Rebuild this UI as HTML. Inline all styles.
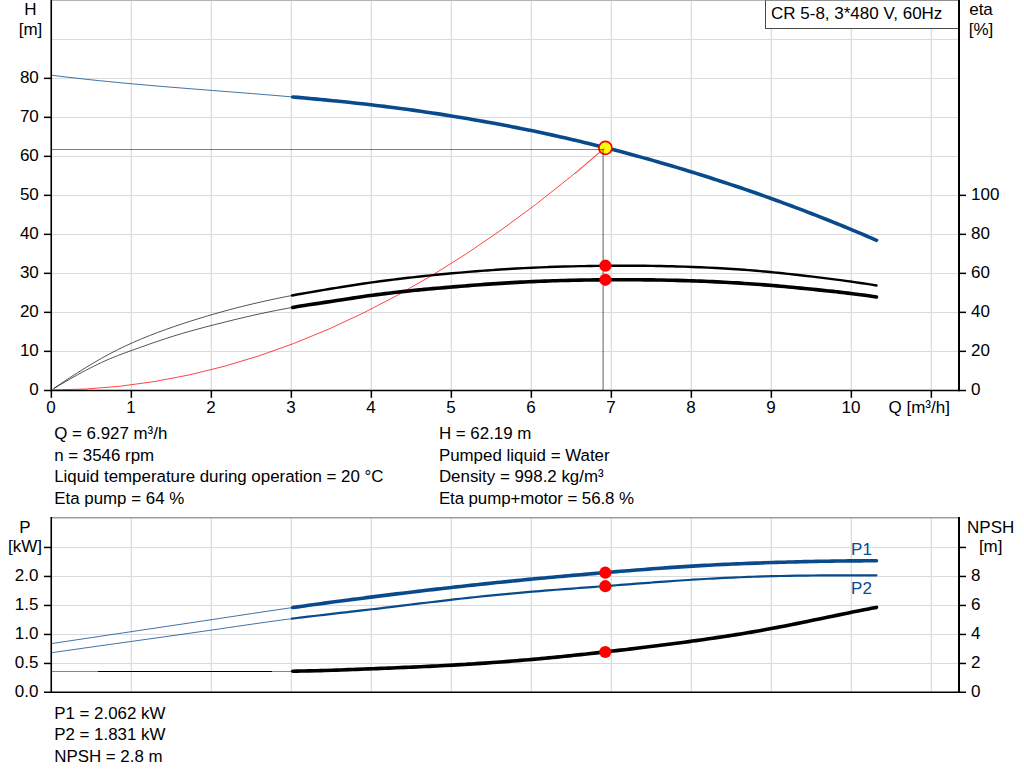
<!DOCTYPE html>
<html><head><meta charset="utf-8"><title>CR 5-8 pump curve</title>
<style>
html,body{margin:0;padding:0;background:#fff;}
body{width:1024px;height:781px;overflow:hidden;font-family:"Liberation Sans",sans-serif;}
svg{display:block;}
</style></head><body>
<svg width="1024" height="781" viewBox="0 0 1024 781">
<rect width="1024" height="781" fill="#fff"/>
<g stroke="#d8dcde" stroke-width="1.25">
<line x1="131.300" y1="1" x2="131.300" y2="390"/>
<line x1="131.300" y1="518" x2="131.300" y2="692"/>
<line x1="211.300" y1="1" x2="211.300" y2="390"/>
<line x1="211.300" y1="518" x2="211.300" y2="692"/>
<line x1="291.300" y1="1" x2="291.300" y2="390"/>
<line x1="291.300" y1="518" x2="291.300" y2="692"/>
<line x1="371.300" y1="1" x2="371.300" y2="390"/>
<line x1="371.300" y1="518" x2="371.300" y2="692"/>
<line x1="451.300" y1="1" x2="451.300" y2="390"/>
<line x1="451.300" y1="518" x2="451.300" y2="692"/>
<line x1="531.300" y1="1" x2="531.300" y2="390"/>
<line x1="531.300" y1="518" x2="531.300" y2="692"/>
<line x1="611.300" y1="1" x2="611.300" y2="390"/>
<line x1="611.300" y1="518" x2="611.300" y2="692"/>
<line x1="691.300" y1="1" x2="691.300" y2="390"/>
<line x1="691.300" y1="518" x2="691.300" y2="692"/>
<line x1="771.300" y1="1" x2="771.300" y2="390"/>
<line x1="771.300" y1="518" x2="771.300" y2="692"/>
<line x1="851.300" y1="1" x2="851.300" y2="390"/>
<line x1="851.300" y1="518" x2="851.300" y2="692"/>
<line x1="931.300" y1="1" x2="931.300" y2="390"/>
<line x1="931.300" y1="518" x2="931.300" y2="692"/>
<line x1="52" y1="351.47" x2="958" y2="351.47" stroke-width="1.12"/>
<line x1="52" y1="312.47" x2="958" y2="312.47" stroke-width="1.12"/>
<line x1="52" y1="273.47" x2="958" y2="273.47" stroke-width="1.12"/>
<line x1="52" y1="234.47" x2="958" y2="234.47" stroke-width="1.12"/>
<line x1="52" y1="195.47" x2="958" y2="195.47" stroke-width="1.12"/>
<line x1="52" y1="156.47" x2="958" y2="156.47" stroke-width="1.12"/>
<line x1="52" y1="117.47" x2="958" y2="117.47" stroke-width="1.12"/>
<line x1="52" y1="78.47" x2="958" y2="78.47" stroke-width="1.12"/>
<line x1="52" y1="39.47" x2="958" y2="39.47" stroke-width="1.12"/>
<line x1="52" y1="663.47" x2="958" y2="663.47" stroke-width="1.12"/>
<line x1="52" y1="634.47" x2="958" y2="634.47" stroke-width="1.12"/>
<line x1="52" y1="605.47" x2="958" y2="605.47" stroke-width="1.12"/>
<line x1="52" y1="576.47" x2="958" y2="576.47" stroke-width="1.12"/>
<line x1="52" y1="547.47" x2="958" y2="547.47" stroke-width="1.12"/>
</g>
<g stroke="#9a9c9d" stroke-width="1.5">
<line x1="51" y1="0.1" x2="960" y2="0.1"/>
<line x1="51" y1="517.85" x2="960" y2="517.85"/>
</g>
<path d="M51,390 Q328.1,390 605.2,147.5" fill="none" stroke="#ff0000" stroke-opacity="0.82" stroke-width="0.9"/>
<path d="M51.00,75.16 C52.34,75.33 56.38,75.84 59.07,76.17 C61.76,76.49 64.44,76.81 67.13,77.13 C69.82,77.45 72.51,77.76 75.20,78.06 C77.89,78.37 80.58,78.67 83.27,78.96 C85.96,79.26 88.64,79.54 91.33,79.83 C94.02,80.11 96.71,80.39 99.40,80.67 C102.09,80.95 104.78,81.22 107.47,81.48 C110.16,81.75 112.84,82.01 115.53,82.27 C118.22,82.53 120.91,82.79 123.60,83.04 C126.29,83.29 128.98,83.54 131.67,83.79 C134.36,84.03 137.04,84.27 139.73,84.51 C142.42,84.75 145.11,84.99 147.80,85.22 C150.49,85.45 153.18,85.68 155.87,85.91 C158.56,86.14 161.24,86.37 163.93,86.59 C166.62,86.81 169.31,87.04 172.00,87.26 C174.69,87.48 177.38,87.70 180.07,87.91 C182.76,88.13 185.44,88.34 188.13,88.56 C190.82,88.77 193.51,88.99 196.20,89.20 C198.89,89.41 201.58,89.62 204.27,89.83 C206.96,90.04 209.64,90.25 212.33,90.46 C215.02,90.67 217.71,90.88 220.40,91.09 C223.09,91.30 225.78,91.51 228.47,91.72 C231.16,91.93 233.84,92.14 236.53,92.36 C239.22,92.57 241.91,92.78 244.60,92.99 C247.29,93.20 249.98,93.42 252.67,93.63 C255.36,93.85 258.04,94.06 260.73,94.28 C263.42,94.50 266.11,94.72 268.80,94.94 C271.49,95.16 274.18,95.38 276.87,95.60 C279.56,95.83 282.24,96.06 284.93,96.29 C287.62,96.51 291.66,96.86 293.00,96.98" fill="none" stroke="#084a8b" stroke-width="0.78"/>
<path d="M292.70,96.95 C294.03,97.07 298.03,97.42 300.70,97.66 C303.36,97.90 306.03,98.14 308.69,98.38 C311.36,98.62 314.03,98.87 316.69,99.12 C319.36,99.37 322.02,99.63 324.69,99.88 C327.35,100.14 330.02,100.40 332.69,100.67 C335.35,100.94 338.02,101.21 340.68,101.48 C343.35,101.75 346.02,102.03 348.68,102.32 C351.35,102.60 354.01,102.89 356.68,103.18 C359.34,103.47 362.01,103.77 364.68,104.07 C367.34,104.38 370.01,104.69 372.67,105.00 C375.34,105.31 378.00,105.63 380.67,105.96 C383.34,106.28 386.00,106.61 388.67,106.95 C391.33,107.29 394.00,107.63 396.66,107.98 C399.33,108.32 402.00,108.68 404.66,109.04 C407.33,109.40 409.99,109.76 412.66,110.13 C415.32,110.51 417.99,110.88 420.66,111.27 C423.32,111.65 425.99,112.04 428.65,112.44 C431.32,112.83 433.98,113.24 436.65,113.65 C439.32,114.05 441.98,114.47 444.65,114.89 C447.31,115.31 449.98,115.74 452.65,116.17 C455.31,116.60 457.98,117.04 460.64,117.49 C463.31,117.93 465.97,118.38 468.64,118.84 C471.31,119.29 473.97,119.75 476.64,120.22 C479.30,120.69 481.97,121.16 484.63,121.64 C487.30,122.11 489.97,122.60 492.63,123.08 C495.30,123.57 497.96,124.07 500.63,124.56 C503.29,125.06 505.96,125.57 508.63,126.08 C511.29,126.59 513.96,127.11 516.62,127.63 C519.29,128.16 521.95,128.69 524.62,129.22 C527.29,129.76 529.95,130.30 532.62,130.85 C535.28,131.40 537.95,131.96 540.62,132.52 C543.28,133.09 545.95,133.66 548.61,134.24 C551.28,134.81 553.94,135.40 556.61,135.99 C559.28,136.59 561.94,137.19 564.61,137.79 C567.27,138.40 569.94,139.01 572.60,139.64 C575.27,140.26 577.94,140.89 580.60,141.52 C583.27,142.16 585.93,142.80 588.60,143.45 C591.26,144.10 593.93,144.76 596.60,145.42 C599.26,146.08 601.93,146.75 604.59,147.43 C607.26,148.11 609.92,148.79 612.59,149.49 C615.26,150.18 617.92,150.87 620.59,151.58 C623.25,152.29 625.92,153.00 628.58,153.72 C631.25,154.43 633.92,155.16 636.58,155.89 C639.25,156.63 641.91,157.36 644.58,158.11 C647.25,158.86 649.91,159.61 652.58,160.37 C655.24,161.13 657.91,161.89 660.57,162.67 C663.24,163.44 665.91,164.22 668.57,165.00 C671.24,165.79 673.90,166.58 676.57,167.38 C679.23,168.18 681.90,168.98 684.57,169.80 C687.23,170.61 689.90,171.43 692.56,172.25 C695.23,173.07 697.89,173.91 700.56,174.74 C703.23,175.58 705.89,176.43 708.56,177.28 C711.22,178.13 713.89,178.98 716.55,179.85 C719.22,180.71 721.89,181.58 724.55,182.46 C727.22,183.34 729.88,184.22 732.55,185.11 C735.22,186.00 737.88,186.90 740.55,187.81 C743.21,188.71 745.88,189.62 748.54,190.54 C751.21,191.46 753.88,192.39 756.54,193.32 C759.21,194.25 761.87,195.19 764.54,196.14 C767.20,197.09 769.87,198.04 772.54,199.00 C775.20,199.96 777.87,200.93 780.53,201.91 C783.20,202.88 785.86,203.86 788.53,204.85 C791.20,205.84 793.86,206.84 796.53,207.85 C799.19,208.85 801.86,209.86 804.52,210.88 C807.19,211.90 809.86,212.93 812.52,213.97 C815.19,215.00 817.85,216.04 820.52,217.09 C823.18,218.14 825.85,219.20 828.52,220.27 C831.18,221.33 833.85,222.41 836.51,223.49 C839.18,224.57 841.85,225.66 844.51,226.75 C847.18,227.85 849.84,228.95 852.51,230.07 C855.17,231.18 857.84,232.30 860.51,233.43 C863.17,234.55 865.84,235.69 868.50,236.84 C871.17,237.98 875.17,239.72 876.50,240.29" fill="none" stroke="#084a8b" stroke-width="3.60" stroke-linecap="round"/>
<path d="M53.60,388.60 C54.93,387.69 58.92,384.94 61.58,383.15 C64.24,381.36 66.90,379.60 69.56,377.86 C72.22,376.12 74.88,374.41 77.54,372.73 C80.20,371.04 82.86,369.38 85.52,367.75 C88.18,366.12 90.84,364.52 93.50,362.94 C96.16,361.37 98.82,359.82 101.48,358.32 C104.14,356.82 106.80,355.36 109.46,353.94 C112.12,352.52 114.78,351.15 117.44,349.82 C120.10,348.50 122.76,347.21 125.42,345.96 C128.08,344.71 130.74,343.51 133.40,342.33 C136.06,341.15 138.72,340.02 141.38,338.91 C144.04,337.80 146.70,336.72 149.36,335.67 C152.02,334.62 154.68,333.60 157.34,332.60 C160.00,331.60 162.66,330.63 165.32,329.67 C167.98,328.72 170.64,327.79 173.30,326.87 C175.96,325.95 178.62,325.06 181.28,324.17 C183.94,323.29 186.60,322.42 189.26,321.57 C191.92,320.71 194.58,319.87 197.24,319.04 C199.90,318.22 202.56,317.41 205.22,316.61 C207.88,315.81 210.54,315.03 213.20,314.26 C215.86,313.49 218.52,312.74 221.18,312.00 C223.84,311.26 226.50,310.53 229.16,309.82 C231.82,309.11 234.48,308.41 237.14,307.73 C239.80,307.05 242.46,306.38 245.12,305.72 C247.78,305.06 250.44,304.42 253.10,303.79 C255.76,303.16 258.42,302.55 261.08,301.94 C263.74,301.34 266.40,300.75 269.06,300.17 C271.72,299.59 274.38,299.03 277.04,298.48 C279.70,297.93 282.36,297.39 285.02,296.86 C287.68,296.34 291.67,295.58 293.00,295.32" fill="none" stroke="#111" stroke-width="0.72"/>
<path d="M292.10,295.49 C293.43,295.24 297.44,294.49 300.11,294.01 C302.77,293.52 305.44,293.05 308.11,292.58 C310.78,292.12 313.45,291.66 316.12,291.21 C318.78,290.75 321.45,290.31 324.12,289.86 C326.79,289.42 329.46,288.98 332.13,288.54 C334.80,288.10 337.46,287.67 340.13,287.24 C342.80,286.81 345.47,286.39 348.14,285.97 C350.81,285.55 353.48,285.14 356.14,284.74 C358.81,284.33 361.48,283.93 364.15,283.54 C366.82,283.15 369.49,282.76 372.15,282.39 C374.82,282.01 377.49,281.64 380.16,281.28 C382.83,280.92 385.50,280.57 388.17,280.23 C390.83,279.89 393.50,279.55 396.17,279.22 C398.84,278.89 401.51,278.57 404.18,278.26 C406.85,277.94 409.51,277.64 412.18,277.33 C414.85,277.03 417.52,276.74 420.19,276.45 C422.86,276.17 425.52,275.88 428.19,275.61 C430.86,275.33 433.53,275.07 436.20,274.80 C438.87,274.54 441.54,274.28 444.20,274.03 C446.87,273.78 449.54,273.53 452.21,273.29 C454.88,273.05 457.55,272.81 460.22,272.58 C462.88,272.35 465.55,272.13 468.22,271.91 C470.89,271.69 473.56,271.47 476.23,271.26 C478.89,271.05 481.56,270.85 484.23,270.65 C486.90,270.46 489.57,270.26 492.24,270.08 C494.91,269.89 497.57,269.71 500.24,269.54 C502.91,269.36 505.58,269.19 508.25,269.03 C510.92,268.87 513.58,268.71 516.25,268.56 C518.92,268.41 521.59,268.27 524.26,268.13 C526.93,268.00 529.60,267.87 532.26,267.74 C534.93,267.62 537.60,267.50 540.27,267.39 C542.94,267.27 545.61,267.17 548.28,267.07 C550.94,266.97 553.61,266.88 556.28,266.79 C558.95,266.70 561.62,266.62 564.29,266.54 C566.95,266.47 569.62,266.40 572.29,266.33 C574.96,266.27 577.63,266.21 580.30,266.16 C582.97,266.10 585.63,266.05 588.30,266.01 C590.97,265.97 593.64,265.93 596.31,265.89 C598.98,265.86 601.65,265.83 604.31,265.81 C606.98,265.78 609.65,265.76 612.32,265.75 C614.99,265.74 617.66,265.73 620.32,265.72 C622.99,265.72 625.66,265.72 628.33,265.72 C631.00,265.73 633.67,265.74 636.34,265.76 C639.00,265.77 641.67,265.79 644.34,265.82 C647.01,265.85 649.68,265.88 652.35,265.92 C655.02,265.96 657.68,266.00 660.35,266.05 C663.02,266.10 665.69,266.16 668.36,266.22 C671.03,266.28 673.69,266.35 676.36,266.43 C679.03,266.50 681.70,266.58 684.37,266.67 C687.04,266.76 689.71,266.85 692.37,266.95 C695.04,267.05 697.71,267.16 700.38,267.27 C703.05,267.39 705.72,267.51 708.38,267.63 C711.05,267.76 713.72,267.90 716.39,268.04 C719.06,268.18 721.73,268.33 724.40,268.49 C727.06,268.65 729.73,268.82 732.40,268.99 C735.07,269.16 737.74,269.34 740.41,269.54 C743.08,269.73 745.74,269.92 748.41,270.13 C751.08,270.34 753.75,270.55 756.42,270.78 C759.09,271.01 761.75,271.24 764.42,271.48 C767.09,271.73 769.76,271.98 772.43,272.24 C775.10,272.50 777.77,272.77 780.43,273.05 C783.10,273.33 785.77,273.62 788.44,273.91 C791.11,274.20 793.78,274.50 796.45,274.80 C799.11,275.10 801.78,275.40 804.45,275.71 C807.12,276.02 809.79,276.33 812.46,276.65 C815.12,276.96 817.79,277.28 820.46,277.61 C823.13,277.94 825.80,278.27 828.47,278.60 C831.14,278.94 833.80,279.28 836.47,279.63 C839.14,279.98 841.81,280.34 844.48,280.70 C847.15,281.06 849.82,281.43 852.48,281.81 C855.15,282.19 857.82,282.57 860.49,282.97 C863.16,283.36 865.83,283.77 868.49,284.18 C871.16,284.59 875.17,285.24 876.50,285.45" fill="none" stroke="#000" stroke-width="2.40" stroke-linecap="round"/>
<path d="M53.60,388.70 C54.93,387.90 58.92,385.49 61.58,383.92 C64.24,382.35 66.90,380.79 69.56,379.27 C72.22,377.74 74.88,376.24 77.54,374.77 C80.20,373.30 82.86,371.86 85.52,370.45 C88.18,369.05 90.84,367.67 93.50,366.34 C96.16,365.01 98.82,363.72 101.48,362.48 C104.14,361.25 106.80,360.06 109.46,358.93 C112.12,357.81 114.78,356.75 117.44,355.72 C120.10,354.68 122.76,353.70 125.42,352.72 C128.08,351.74 130.74,350.79 133.40,349.83 C136.06,348.88 138.72,347.92 141.38,346.97 C144.04,346.03 146.70,345.08 149.36,344.15 C152.02,343.23 154.68,342.30 157.34,341.40 C160.00,340.49 162.66,339.60 165.32,338.73 C167.98,337.85 170.64,336.99 173.30,336.16 C175.96,335.32 178.62,334.51 181.28,333.72 C183.94,332.93 186.60,332.16 189.26,331.41 C191.92,330.66 194.58,329.93 197.24,329.22 C199.90,328.50 202.56,327.80 205.22,327.10 C207.88,326.40 210.54,325.72 213.20,325.03 C215.86,324.35 218.52,323.67 221.18,323.00 C223.84,322.33 226.50,321.67 229.16,321.01 C231.82,320.35 234.48,319.70 237.14,319.06 C239.80,318.42 242.46,317.79 245.12,317.17 C247.78,316.55 250.44,315.94 253.10,315.34 C255.76,314.74 258.42,314.15 261.08,313.57 C263.74,313.00 266.40,312.43 269.06,311.89 C271.72,311.34 274.38,310.80 277.04,310.28 C279.70,309.76 282.36,309.26 285.02,308.77 C287.68,308.28 291.67,307.59 293.00,307.36" fill="none" stroke="#111" stroke-width="0.72"/>
<path d="M292.70,307.41 C294.03,307.19 298.03,306.51 300.70,306.08 C303.36,305.65 306.03,305.24 308.69,304.82 C311.36,304.41 314.03,304.01 316.69,303.61 C319.36,303.20 322.02,302.80 324.69,302.40 C327.35,301.99 330.02,301.59 332.69,301.18 C335.35,300.77 338.02,300.35 340.68,299.94 C343.35,299.53 346.02,299.12 348.68,298.71 C351.35,298.31 354.01,297.90 356.68,297.50 C359.34,297.11 362.01,296.72 364.68,296.34 C367.34,295.96 370.01,295.58 372.67,295.22 C375.34,294.86 378.00,294.51 380.67,294.17 C383.34,293.83 386.00,293.51 388.67,293.19 C391.33,292.87 394.00,292.56 396.66,292.26 C399.33,291.96 402.00,291.66 404.66,291.38 C407.33,291.09 409.99,290.82 412.66,290.55 C415.32,290.28 417.99,290.01 420.66,289.76 C423.32,289.50 425.99,289.25 428.65,289.00 C431.32,288.76 433.98,288.52 436.65,288.28 C439.32,288.05 441.98,287.82 444.65,287.59 C447.31,287.36 449.98,287.13 452.65,286.91 C455.31,286.69 457.98,286.47 460.64,286.26 C463.31,286.04 465.97,285.83 468.64,285.62 C471.31,285.41 473.97,285.21 476.64,285.01 C479.30,284.81 481.97,284.61 484.63,284.42 C487.30,284.23 489.97,284.04 492.63,283.86 C495.30,283.68 497.96,283.51 500.63,283.34 C503.29,283.16 505.96,283.00 508.63,282.84 C511.29,282.68 513.96,282.53 516.62,282.38 C519.29,282.23 521.95,282.09 524.62,281.96 C527.29,281.82 529.95,281.70 532.62,281.58 C535.28,281.46 537.95,281.34 540.62,281.24 C543.28,281.13 545.95,281.03 548.61,280.94 C551.28,280.84 553.94,280.76 556.61,280.68 C559.28,280.60 561.94,280.52 564.61,280.45 C567.27,280.38 569.94,280.32 572.60,280.26 C575.27,280.20 577.94,280.15 580.60,280.10 C583.27,280.06 585.93,280.01 588.60,279.98 C591.26,279.94 593.93,279.91 596.60,279.88 C599.26,279.85 601.93,279.82 604.59,279.80 C607.26,279.78 609.92,279.77 612.59,279.76 C615.26,279.75 617.92,279.74 620.59,279.73 C623.25,279.73 625.92,279.73 628.58,279.74 C631.25,279.74 633.92,279.75 636.58,279.77 C639.25,279.79 641.91,279.81 644.58,279.83 C647.25,279.86 649.91,279.89 652.58,279.92 C655.24,279.96 657.91,280.00 660.57,280.04 C663.24,280.09 665.91,280.14 668.57,280.19 C671.24,280.25 673.90,280.31 676.57,280.38 C679.23,280.45 681.90,280.52 684.57,280.60 C687.23,280.68 689.90,280.76 692.56,280.85 C695.23,280.94 697.89,281.04 700.56,281.14 C703.23,281.25 705.89,281.35 708.56,281.47 C711.22,281.59 713.89,281.71 716.55,281.84 C719.22,281.96 721.89,282.10 724.55,282.24 C727.22,282.38 729.88,282.53 732.55,282.68 C735.22,282.84 737.88,283.00 740.55,283.17 C743.21,283.34 745.88,283.51 748.54,283.69 C751.21,283.88 753.88,284.07 756.54,284.26 C759.21,284.46 761.87,284.66 764.54,284.87 C767.20,285.08 769.87,285.30 772.54,285.53 C775.20,285.75 777.87,285.99 780.53,286.23 C783.20,286.47 785.86,286.71 788.53,286.96 C791.20,287.21 793.86,287.46 796.53,287.72 C799.19,287.97 801.86,288.23 804.52,288.49 C807.19,288.75 809.86,289.01 812.52,289.28 C815.19,289.54 817.85,289.81 820.52,290.09 C823.18,290.36 825.85,290.64 828.52,290.93 C831.18,291.21 833.85,291.50 836.51,291.80 C839.18,292.10 841.85,292.41 844.51,292.72 C847.18,293.03 849.84,293.35 852.51,293.69 C855.17,294.02 857.84,294.36 860.51,294.71 C863.17,295.06 865.84,295.42 868.50,295.79 C871.17,296.17 875.17,296.76 876.50,296.95" fill="none" stroke="#000" stroke-width="3.60" stroke-linecap="round"/>
<path d="M51.00,643.70 C52.34,643.50 56.38,642.88 59.07,642.47 C61.76,642.07 64.44,641.66 67.13,641.25 C69.82,640.85 72.51,640.44 75.20,640.03 C77.89,639.63 80.58,639.23 83.27,638.82 C85.96,638.42 88.64,638.01 91.33,637.61 C94.02,637.21 96.71,636.81 99.40,636.41 C102.09,636.00 104.78,635.60 107.47,635.20 C110.16,634.80 112.84,634.40 115.53,634.00 C118.22,633.60 120.91,633.20 123.60,632.80 C126.29,632.40 128.98,632.00 131.67,631.60 C134.36,631.20 137.04,630.80 139.73,630.40 C142.42,630.00 145.11,629.60 147.80,629.20 C150.49,628.80 153.18,628.40 155.87,628.00 C158.56,627.60 161.24,627.20 163.93,626.80 C166.62,626.40 169.31,626.00 172.00,625.60 C174.69,625.20 177.38,624.80 180.07,624.40 C182.76,624.00 185.44,623.59 188.13,623.19 C190.82,622.79 193.51,622.38 196.20,621.98 C198.89,621.58 201.58,621.17 204.27,620.77 C206.96,620.36 209.64,619.96 212.33,619.55 C215.02,619.14 217.71,618.73 220.40,618.33 C223.09,617.92 225.78,617.51 228.47,617.10 C231.16,616.69 233.84,616.29 236.53,615.88 C239.22,615.47 241.91,615.06 244.60,614.66 C247.29,614.25 249.98,613.85 252.67,613.44 C255.36,613.04 258.04,612.63 260.73,612.23 C263.42,611.83 266.11,611.43 268.80,611.03 C271.49,610.64 274.18,610.24 276.87,609.85 C279.56,609.45 282.24,609.06 284.93,608.67 C287.62,608.28 291.66,607.71 293.00,607.51" fill="none" stroke="#084a8b" stroke-width="0.78"/>
<path d="M292.70,607.56 C294.03,607.37 298.03,606.80 300.70,606.43 C303.36,606.05 306.03,605.68 308.69,605.31 C311.36,604.94 314.03,604.58 316.69,604.21 C319.36,603.85 322.02,603.49 324.69,603.13 C327.35,602.77 330.02,602.42 332.69,602.06 C335.35,601.71 338.02,601.35 340.68,601.00 C343.35,600.65 346.02,600.31 348.68,599.96 C351.35,599.61 354.01,599.27 356.68,598.93 C359.34,598.58 362.01,598.24 364.68,597.90 C367.34,597.56 370.01,597.23 372.67,596.89 C375.34,596.55 378.00,596.22 380.67,595.88 C383.34,595.55 386.00,595.22 388.67,594.89 C391.33,594.56 394.00,594.23 396.66,593.90 C399.33,593.57 402.00,593.25 404.66,592.92 C407.33,592.60 409.99,592.28 412.66,591.96 C415.32,591.64 417.99,591.32 420.66,591.01 C423.32,590.69 425.99,590.38 428.65,590.06 C431.32,589.75 433.98,589.44 436.65,589.13 C439.32,588.83 441.98,588.52 444.65,588.22 C447.31,587.91 449.98,587.61 452.65,587.32 C455.31,587.02 457.98,586.72 460.64,586.43 C463.31,586.13 465.97,585.84 468.64,585.55 C471.31,585.26 473.97,584.98 476.64,584.69 C479.30,584.41 481.97,584.12 484.63,583.84 C487.30,583.56 489.97,583.29 492.63,583.01 C495.30,582.73 497.96,582.46 500.63,582.19 C503.29,581.92 505.96,581.65 508.63,581.38 C511.29,581.12 513.96,580.85 516.62,580.59 C519.29,580.33 521.95,580.07 524.62,579.81 C527.29,579.55 529.95,579.30 532.62,579.05 C535.28,578.79 537.95,578.54 540.62,578.29 C543.28,578.04 545.95,577.80 548.61,577.55 C551.28,577.31 553.94,577.06 556.61,576.82 C559.28,576.58 561.94,576.34 564.61,576.10 C567.27,575.87 569.94,575.63 572.60,575.40 C575.27,575.16 577.94,574.93 580.60,574.70 C583.27,574.47 585.93,574.24 588.60,574.01 C591.26,573.78 593.93,573.55 596.60,573.33 C599.26,573.10 601.93,572.87 604.59,572.65 C607.26,572.43 609.92,572.20 612.59,571.98 C615.26,571.76 617.92,571.54 620.59,571.32 C623.25,571.11 625.92,570.89 628.58,570.67 C631.25,570.46 633.92,570.25 636.58,570.04 C639.25,569.83 641.91,569.62 644.58,569.42 C647.25,569.21 649.91,569.01 652.58,568.81 C655.24,568.61 657.91,568.42 660.57,568.22 C663.24,568.03 665.91,567.84 668.57,567.66 C671.24,567.47 673.90,567.29 676.57,567.11 C679.23,566.94 681.90,566.77 684.57,566.60 C687.23,566.43 689.90,566.27 692.56,566.11 C695.23,565.95 697.89,565.79 700.56,565.64 C703.23,565.49 705.89,565.35 708.56,565.21 C711.22,565.07 713.89,564.93 716.55,564.80 C719.22,564.67 721.89,564.54 724.55,564.42 C727.22,564.29 729.88,564.17 732.55,564.05 C735.22,563.94 737.88,563.82 740.55,563.71 C743.21,563.60 745.88,563.50 748.54,563.40 C751.21,563.29 753.88,563.19 756.54,563.10 C759.21,563.00 761.87,562.91 764.54,562.82 C767.20,562.72 769.87,562.64 772.54,562.55 C775.20,562.46 777.87,562.38 780.53,562.30 C783.20,562.22 785.86,562.14 788.53,562.07 C791.20,561.99 793.86,561.92 796.53,561.85 C799.19,561.79 801.86,561.72 804.52,561.66 C807.19,561.59 809.86,561.53 812.52,561.48 C815.19,561.42 817.85,561.37 820.52,561.32 C823.18,561.27 825.85,561.22 828.52,561.18 C831.18,561.14 833.85,561.10 836.51,561.06 C839.18,561.02 841.85,560.99 844.51,560.96 C847.18,560.93 849.84,560.91 852.51,560.89 C855.17,560.87 857.84,560.85 860.51,560.83 C863.17,560.82 865.84,560.81 868.50,560.81 C871.17,560.80 875.17,560.80 876.50,560.80" fill="none" stroke="#084a8b" stroke-width="3.60" stroke-linecap="round"/>
<path d="M51.00,652.80 C52.34,652.61 56.38,652.02 59.07,651.64 C61.76,651.25 64.44,650.87 67.13,650.48 C69.82,650.10 72.51,649.72 75.20,649.34 C77.89,648.96 80.58,648.58 83.27,648.19 C85.96,647.81 88.64,647.44 91.33,647.06 C94.02,646.68 96.71,646.30 99.40,645.92 C102.09,645.55 104.78,645.17 107.47,644.79 C110.16,644.42 112.84,644.04 115.53,643.66 C118.22,643.29 120.91,642.91 123.60,642.53 C126.29,642.16 128.98,641.78 131.67,641.41 C134.36,641.03 137.04,640.65 139.73,640.28 C142.42,639.90 145.11,639.53 147.80,639.15 C150.49,638.77 153.18,638.39 155.87,638.02 C158.56,637.64 161.24,637.26 163.93,636.88 C166.62,636.50 169.31,636.12 172.00,635.74 C174.69,635.36 177.38,634.98 180.07,634.60 C182.76,634.22 185.44,633.83 188.13,633.45 C190.82,633.06 193.51,632.68 196.20,632.29 C198.89,631.90 201.58,631.52 204.27,631.13 C206.96,630.74 209.64,630.35 212.33,629.96 C215.02,629.56 217.71,629.17 220.40,628.78 C223.09,628.38 225.78,627.99 228.47,627.59 C231.16,627.20 233.84,626.80 236.53,626.41 C239.22,626.02 241.91,625.62 244.60,625.23 C247.29,624.84 249.98,624.45 252.67,624.07 C255.36,623.68 258.04,623.29 260.73,622.91 C263.42,622.53 266.11,622.15 268.80,621.78 C271.49,621.41 274.18,621.04 276.87,620.67 C279.56,620.31 282.24,619.95 284.93,619.59 C287.62,619.24 291.66,618.72 293.00,618.54" fill="none" stroke="#084a8b" stroke-width="0.78"/>
<path d="M292.00,618.67 C293.33,618.50 297.34,617.99 300.01,617.66 C302.68,617.33 305.34,617.00 308.01,616.68 C310.68,616.36 313.35,616.04 316.02,615.73 C318.69,615.41 321.36,615.10 324.03,614.79 C326.70,614.48 329.37,614.17 332.03,613.87 C334.70,613.56 337.37,613.26 340.04,612.95 C342.71,612.65 345.38,612.35 348.05,612.04 C350.72,611.74 353.39,611.43 356.05,611.13 C358.72,610.82 361.39,610.52 364.06,610.21 C366.73,609.90 369.40,609.59 372.07,609.27 C374.74,608.96 377.41,608.64 380.08,608.33 C382.74,608.01 385.41,607.68 388.08,607.36 C390.75,607.04 393.42,606.72 396.09,606.39 C398.76,606.07 401.43,605.74 404.10,605.41 C406.76,605.09 409.43,604.76 412.10,604.44 C414.77,604.11 417.44,603.79 420.11,603.46 C422.78,603.14 425.45,602.81 428.12,602.49 C430.79,602.17 433.45,601.85 436.12,601.54 C438.79,601.22 441.46,600.91 444.13,600.59 C446.80,600.28 449.47,599.97 452.14,599.67 C454.81,599.37 457.47,599.06 460.14,598.77 C462.81,598.47 465.48,598.18 468.15,597.89 C470.82,597.60 473.49,597.31 476.16,597.03 C478.83,596.75 481.50,596.47 484.16,596.20 C486.83,595.92 489.50,595.65 492.17,595.39 C494.84,595.12 497.51,594.86 500.18,594.60 C502.85,594.34 505.52,594.09 508.18,593.84 C510.85,593.59 513.52,593.34 516.19,593.10 C518.86,592.86 521.53,592.62 524.20,592.39 C526.87,592.15 529.54,591.92 532.21,591.70 C534.87,591.47 537.54,591.25 540.21,591.03 C542.88,590.82 545.55,590.60 548.22,590.39 C550.89,590.18 553.56,589.97 556.23,589.77 C558.89,589.56 561.56,589.36 564.23,589.15 C566.90,588.95 569.57,588.75 572.24,588.55 C574.91,588.35 577.58,588.16 580.25,587.96 C582.92,587.76 585.58,587.56 588.25,587.36 C590.92,587.17 593.59,586.97 596.26,586.77 C598.93,586.57 601.60,586.37 604.27,586.17 C606.94,585.97 609.61,585.77 612.27,585.56 C614.94,585.36 617.61,585.15 620.28,584.95 C622.95,584.74 625.62,584.54 628.29,584.33 C630.96,584.13 633.63,583.92 636.29,583.72 C638.96,583.51 641.63,583.31 644.30,583.10 C646.97,582.90 649.64,582.70 652.31,582.50 C654.98,582.30 657.65,582.10 660.32,581.91 C662.98,581.71 665.65,581.52 668.32,581.33 C670.99,581.14 673.66,580.95 676.33,580.77 C679.00,580.59 681.67,580.41 684.34,580.23 C687.00,580.05 689.67,579.88 692.34,579.72 C695.01,579.55 697.68,579.39 700.35,579.23 C703.02,579.07 705.69,578.92 708.36,578.77 C711.03,578.62 713.69,578.48 716.36,578.34 C719.03,578.20 721.70,578.07 724.37,577.94 C727.04,577.81 729.71,577.69 732.38,577.57 C735.05,577.45 737.71,577.34 740.38,577.23 C743.05,577.12 745.72,577.01 748.39,576.91 C751.06,576.82 753.73,576.72 756.40,576.63 C759.07,576.54 761.74,576.46 764.40,576.38 C767.07,576.30 769.74,576.23 772.41,576.16 C775.08,576.10 777.75,576.03 780.42,575.98 C783.09,575.92 785.76,575.86 788.42,575.82 C791.09,575.77 793.76,575.72 796.43,575.68 C799.10,575.64 801.77,575.61 804.44,575.57 C807.11,575.54 809.78,575.51 812.45,575.49 C815.11,575.46 817.78,575.44 820.45,575.42 C823.12,575.40 825.79,575.38 828.46,575.37 C831.13,575.35 833.80,575.34 836.47,575.33 C839.13,575.32 841.80,575.32 844.47,575.31 C847.14,575.30 849.81,575.30 852.48,575.30 C855.15,575.30 857.82,575.29 860.49,575.29 C863.16,575.29 865.82,575.29 868.49,575.30 C871.16,575.30 875.17,575.30 876.50,575.30" fill="none" stroke="#084a8b" stroke-width="2.20" stroke-linecap="round"/>
<path d="M51.00,671.30 C52.34,671.30 56.38,671.30 59.07,671.30 C61.76,671.31 64.44,671.31 67.13,671.31 C69.82,671.31 72.51,671.31 75.20,671.31 C77.89,671.31 80.58,671.31 83.27,671.31 C85.96,671.31 88.64,671.31 91.33,671.31 C94.02,671.31 96.71,671.31 99.40,671.31 C102.09,671.31 104.78,671.31 107.47,671.31 C110.16,671.31 112.84,671.31 115.53,671.30 C118.22,671.30 120.91,671.30 123.60,671.30 C126.29,671.30 128.98,671.30 131.67,671.30 C134.36,671.30 137.04,671.30 139.73,671.30 C142.42,671.30 145.11,671.30 147.80,671.30 C150.49,671.29 153.18,671.29 155.87,671.29 C158.56,671.29 161.24,671.29 163.93,671.29 C166.62,671.29 169.31,671.29 172.00,671.29 C174.69,671.29 177.38,671.29 180.07,671.29 C182.76,671.29 185.44,671.29 188.13,671.29 C190.82,671.29 193.51,671.29 196.20,671.29 C198.89,671.29 201.58,671.30 204.27,671.30 C206.96,671.30 209.64,671.30 212.33,671.30 C215.02,671.30 217.71,671.30 220.40,671.31 C223.09,671.31 225.78,671.31 228.47,671.31 C231.16,671.31 233.84,671.32 236.53,671.32 C239.22,671.32 241.91,671.32 244.60,671.32 C247.29,671.32 249.98,671.32 252.67,671.32 C255.36,671.32 258.04,671.32 260.73,671.31 C263.42,671.31 266.11,671.31 268.80,671.30 C271.49,671.30 274.18,671.30 276.87,671.29 C279.56,671.28 282.24,671.27 284.93,671.25 C287.62,671.23 291.66,671.19 293.00,671.18" fill="none" stroke="none" stroke-width="0.00"/>
<path d="M292.70,671.18 C294.03,671.16 298.03,671.11 300.70,671.07 C303.36,671.02 306.03,670.97 308.69,670.91 C311.36,670.85 314.03,670.79 316.69,670.72 C319.36,670.65 322.02,670.57 324.69,670.49 C327.35,670.41 330.02,670.33 332.69,670.24 C335.35,670.15 338.02,670.06 340.68,669.97 C343.35,669.87 346.02,669.77 348.68,669.67 C351.35,669.57 354.01,669.47 356.68,669.37 C359.34,669.26 362.01,669.16 364.68,669.05 C367.34,668.95 370.01,668.84 372.67,668.73 C375.34,668.63 378.00,668.52 380.67,668.41 C383.34,668.31 386.00,668.20 388.67,668.09 C391.33,667.98 394.00,667.87 396.66,667.76 C399.33,667.65 402.00,667.54 404.66,667.42 C407.33,667.31 409.99,667.20 412.66,667.08 C415.32,666.96 417.99,666.84 420.66,666.72 C423.32,666.60 425.99,666.47 428.65,666.34 C431.32,666.22 433.98,666.09 436.65,665.95 C439.32,665.82 441.98,665.68 444.65,665.54 C447.31,665.40 449.98,665.26 452.65,665.11 C455.31,664.96 457.98,664.81 460.64,664.65 C463.31,664.50 465.97,664.33 468.64,664.17 C471.31,664.00 473.97,663.84 476.64,663.66 C479.30,663.49 481.97,663.31 484.63,663.13 C487.30,662.95 489.97,662.76 492.63,662.57 C495.30,662.38 497.96,662.18 500.63,661.98 C503.29,661.78 505.96,661.58 508.63,661.37 C511.29,661.16 513.96,660.95 516.62,660.73 C519.29,660.51 521.95,660.28 524.62,660.06 C527.29,659.83 529.95,659.59 532.62,659.36 C535.28,659.12 537.95,658.87 540.62,658.63 C543.28,658.38 545.95,658.13 548.61,657.87 C551.28,657.61 553.94,657.35 556.61,657.09 C559.28,656.82 561.94,656.55 564.61,656.28 C567.27,656.01 569.94,655.73 572.60,655.45 C575.27,655.18 577.94,654.89 580.60,654.61 C583.27,654.32 585.93,654.03 588.60,653.74 C591.26,653.45 593.93,653.16 596.60,652.86 C599.26,652.57 601.93,652.27 604.59,651.97 C607.26,651.67 609.92,651.37 612.59,651.06 C615.26,650.76 617.92,650.45 620.59,650.14 C623.25,649.83 625.92,649.52 628.58,649.21 C631.25,648.90 633.92,648.58 636.58,648.26 C639.25,647.94 641.91,647.62 644.58,647.29 C647.25,646.97 649.91,646.64 652.58,646.31 C655.24,645.98 657.91,645.65 660.57,645.31 C663.24,644.97 665.91,644.63 668.57,644.29 C671.24,643.94 673.90,643.59 676.57,643.24 C679.23,642.89 681.90,642.54 684.57,642.18 C687.23,641.82 689.90,641.45 692.56,641.08 C695.23,640.72 697.89,640.35 700.56,639.97 C703.23,639.59 705.89,639.21 708.56,638.82 C711.22,638.44 713.89,638.04 716.55,637.65 C719.22,637.25 721.89,636.85 724.55,636.44 C727.22,636.03 729.88,635.61 732.55,635.19 C735.22,634.77 737.88,634.34 740.55,633.91 C743.21,633.47 745.88,633.03 748.54,632.58 C751.21,632.13 753.88,631.67 756.54,631.20 C759.21,630.74 761.87,630.27 764.54,629.78 C767.20,629.30 769.87,628.81 772.54,628.31 C775.20,627.81 777.87,627.31 780.53,626.79 C783.20,626.28 785.86,625.76 788.53,625.23 C791.20,624.70 793.86,624.17 796.53,623.63 C799.19,623.09 801.86,622.55 804.52,622.00 C807.19,621.46 809.86,620.91 812.52,620.35 C815.19,619.80 817.85,619.25 820.52,618.70 C823.18,618.14 825.85,617.59 828.52,617.03 C831.18,616.48 833.85,615.92 836.51,615.37 C839.18,614.82 841.85,614.27 844.51,613.72 C847.18,613.18 849.84,612.63 852.51,612.09 C855.17,611.56 857.84,611.02 860.51,610.49 C863.17,609.96 865.84,609.44 868.50,608.92 C871.17,608.41 875.17,607.65 876.50,607.40" fill="none" stroke="#000" stroke-width="3.60" stroke-linecap="round"/>
<g shape-rendering="crispEdges" stroke="#000" stroke-width="1">
<line x1="52" y1="671.5" x2="98" y2="671.5" stroke-opacity="0.48"/>
<line x1="98" y1="671.5" x2="272" y2="671.5"/>
<line x1="272" y1="671.5" x2="291" y2="671.5" stroke-opacity="0.48"/>
</g>
<rect x="765.5" y="-2" width="194" height="30.5" fill="#fff" stroke="#4a4a4a" stroke-width="1" shape-rendering="crispEdges"/>
<line x1="765" y1="0.2" x2="960" y2="0.2" stroke="#6a6a6a" stroke-width="1.2"/>
<g stroke="#000" fill="none">
<line x1="51.25" y1="0" x2="51.25" y2="391.2" stroke-width="1.6"/>
<line x1="959" y1="0" x2="959" y2="391.3" stroke-width="2"/>
<line x1="44" y1="390.5" x2="966" y2="390.5" stroke-width="1.35"/>
<line x1="51.25" y1="517" x2="51.25" y2="692.7" stroke-width="1.6"/>
<line x1="959" y1="517" x2="959" y2="692.7" stroke-width="2"/>
<line x1="44" y1="692.3" x2="966" y2="692.3" stroke-width="1.4"/>
<g stroke-width="1.5">
<line x1="44" y1="351.35" x2="51" y2="351.35"/>
<line x1="44" y1="312.35" x2="51" y2="312.35"/>
<line x1="44" y1="273.35" x2="51" y2="273.35"/>
<line x1="44" y1="234.35" x2="51" y2="234.35"/>
<line x1="44" y1="195.35" x2="51" y2="195.35"/>
<line x1="44" y1="156.35" x2="51" y2="156.35"/>
<line x1="44" y1="117.35" x2="51" y2="117.35"/>
<line x1="44" y1="78.35" x2="51" y2="78.35"/>
<line x1="959" y1="351.35" x2="966" y2="351.35"/>
<line x1="959" y1="312.35" x2="966" y2="312.35"/>
<line x1="959" y1="273.35" x2="966" y2="273.35"/>
<line x1="959" y1="234.35" x2="966" y2="234.35"/>
<line x1="959" y1="195.35" x2="966" y2="195.35"/>
<line x1="51.35" y1="390" x2="51.35" y2="397.8"/>
<line x1="131.35" y1="390" x2="131.35" y2="397.8"/>
<line x1="211.35" y1="390" x2="211.35" y2="397.8"/>
<line x1="291.35" y1="390" x2="291.35" y2="397.8"/>
<line x1="371.35" y1="390" x2="371.35" y2="397.8"/>
<line x1="451.35" y1="390" x2="451.35" y2="397.8"/>
<line x1="531.35" y1="390" x2="531.35" y2="397.8"/>
<line x1="611.35" y1="390" x2="611.35" y2="397.8"/>
<line x1="691.35" y1="390" x2="691.35" y2="397.8"/>
<line x1="771.35" y1="390" x2="771.35" y2="397.8"/>
<line x1="851.35" y1="390" x2="851.35" y2="397.8"/>
<line x1="931.35" y1="390" x2="931.35" y2="397.8"/>
<line x1="44" y1="663.45" x2="51" y2="663.45"/>
<line x1="959" y1="663.45" x2="966" y2="663.45"/>
<line x1="44" y1="634.45" x2="51" y2="634.45"/>
<line x1="959" y1="634.45" x2="966" y2="634.45"/>
<line x1="44" y1="605.45" x2="51" y2="605.45"/>
<line x1="959" y1="605.45" x2="966" y2="605.45"/>
<line x1="44" y1="576.45" x2="51" y2="576.45"/>
<line x1="959" y1="576.45" x2="966" y2="576.45"/>
<line x1="44" y1="547.45" x2="51" y2="547.45"/>
<line x1="959" y1="547.45" x2="966" y2="547.45"/>
</g>
</g>
<circle cx="605.4" cy="147.9" r="6.5" fill="#ffff00" stroke="#ff0000" stroke-width="1.7"/>
<line x1="52" y1="149.5" x2="603.8" y2="149.5" stroke="#000" stroke-opacity="0.5" stroke-width="1"/>
<line x1="603.15" y1="149" x2="603.15" y2="390" stroke="#000" stroke-opacity="0.42" stroke-width="1.5"/>
<path d="M575,174.2 L605.2,147.7" fill="none" stroke="#ff0000" stroke-opacity="0.45" stroke-width="0.85"/>
<circle cx="605.4" cy="265.7" r="6.1" fill="#ff0000"/>
<circle cx="605.4" cy="279.8" r="6.1" fill="#ff0000"/>
<circle cx="605.3" cy="572.7" r="6.1" fill="#ff0000"/>
<circle cx="605.3" cy="586.2" r="6.1" fill="#ff0000"/>
<circle cx="605.3" cy="652.0" r="6.1" fill="#ff0000"/>
<g font-family="'Liberation Sans', sans-serif" font-size="17" fill="#000">
<text x="30.50" y="15.00" text-anchor="middle">H</text>
<text x="30.50" y="35.00" text-anchor="middle">[m]</text>
<text x="981.00" y="15.00" text-anchor="middle">eta</text>
<text x="981.00" y="35.00" text-anchor="middle">[%]</text>
<text x="38.80" y="394.70" text-anchor="end">0</text>
<text x="38.80" y="355.70" text-anchor="end">10</text>
<text x="38.80" y="316.70" text-anchor="end">20</text>
<text x="38.80" y="277.70" text-anchor="end">30</text>
<text x="38.80" y="238.70" text-anchor="end">40</text>
<text x="38.80" y="199.70" text-anchor="end">50</text>
<text x="38.80" y="160.70" text-anchor="end">60</text>
<text x="38.80" y="121.70" text-anchor="end">70</text>
<text x="38.80" y="82.70" text-anchor="end">80</text>
<text x="971.00" y="394.70" text-anchor="start">0</text>
<text x="971.00" y="355.70" text-anchor="start">20</text>
<text x="971.00" y="316.70" text-anchor="start">40</text>
<text x="971.00" y="277.70" text-anchor="start">60</text>
<text x="971.00" y="238.70" text-anchor="start">80</text>
<text x="971.00" y="199.70" text-anchor="start">100</text>
<text x="51.00" y="413.00" text-anchor="middle">0</text>
<text x="131.00" y="413.00" text-anchor="middle">1</text>
<text x="211.00" y="413.00" text-anchor="middle">2</text>
<text x="291.00" y="413.00" text-anchor="middle">3</text>
<text x="371.00" y="413.00" text-anchor="middle">4</text>
<text x="451.00" y="413.00" text-anchor="middle">5</text>
<text x="531.00" y="413.00" text-anchor="middle">6</text>
<text x="611.00" y="413.00" text-anchor="middle">7</text>
<text x="691.00" y="413.00" text-anchor="middle">8</text>
<text x="771.00" y="413.00" text-anchor="middle">9</text>
<text x="851.00" y="413.00" text-anchor="middle">10</text>
<text x="888.50" y="413.00" text-anchor="start">Q [m³/h]</text>
<text x="771.00" y="19.00" text-anchor="start">CR 5-8, 3*480 V, 60Hz</text>
<text x="54.20" y="438.50" text-anchor="start" font-size="16.9">Q = 6.927 m³/h</text>
<text x="54.20" y="460.50" text-anchor="start" font-size="16.9">n = 3546 rpm</text>
<text x="54.20" y="481.70" text-anchor="start" font-size="16.9">Liquid temperature during operation = 20 °C</text>
<text x="54.20" y="503.50" text-anchor="start" font-size="16.9">Eta pump = 64 %</text>
<text x="438.90" y="438.50" text-anchor="start" font-size="16.9">H = 62.19 m</text>
<text x="438.90" y="460.50" text-anchor="start" font-size="16.9">Pumped liquid = Water</text>
<text x="438.90" y="481.70" text-anchor="start" font-size="16.9">Density = 998.2 kg/m³</text>
<text x="438.90" y="503.50" text-anchor="start" font-size="16.9" letter-spacing="-0.095">Eta pump+motor = 56.8 %</text>
<text x="25.00" y="532.50" text-anchor="middle">P</text>
<text x="25.00" y="551.50" text-anchor="middle">[kW]</text>
<text x="990.70" y="533.00" text-anchor="middle">NPSH</text>
<text x="990.70" y="551.50" text-anchor="middle">[m]</text>
<text x="38.50" y="696.60" text-anchor="end">0.0</text>
<text x="971.00" y="696.60" text-anchor="start">0</text>
<text x="38.50" y="667.60" text-anchor="end">0.5</text>
<text x="971.00" y="667.60" text-anchor="start">2</text>
<text x="38.50" y="638.60" text-anchor="end">1.0</text>
<text x="971.00" y="638.60" text-anchor="start">4</text>
<text x="38.50" y="609.60" text-anchor="end">1.5</text>
<text x="971.00" y="609.60" text-anchor="start">6</text>
<text x="38.50" y="580.60" text-anchor="end">2.0</text>
<text x="971.00" y="580.60" text-anchor="start">8</text>
<text x="851.10" y="554.60" text-anchor="start" fill="#084a8b">P1</text>
<text x="851.10" y="593.70" text-anchor="start" fill="#084a8b">P2</text>
<text x="54.20" y="718.80" text-anchor="start" font-size="16.9">P1 = 2.062 kW</text>
<text x="54.20" y="739.60" text-anchor="start" font-size="16.9">P2 = 1.831 kW</text>
<text x="54.20" y="762.10" text-anchor="start" font-size="16.9">NPSH = 2.8 m</text>
</g>
</svg>
</body></html>
